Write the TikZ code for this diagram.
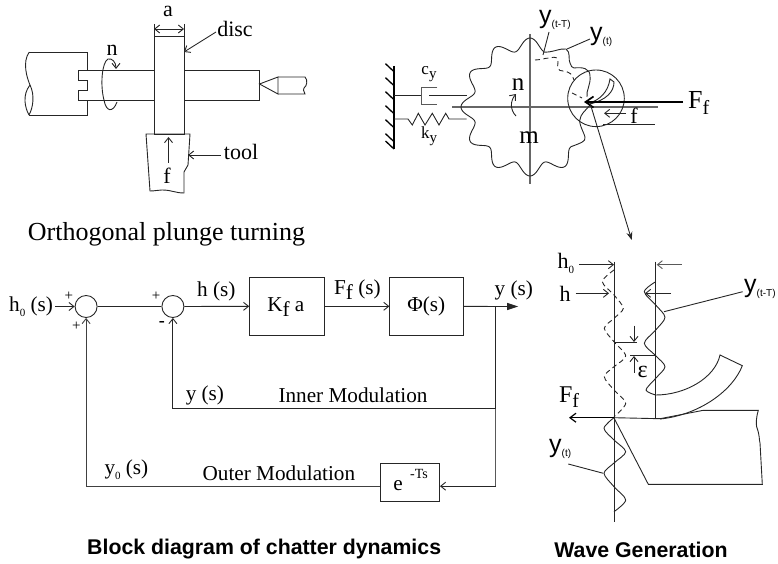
\documentclass[tikz,border=0pt]{standalone}
\usepackage{fontspec}
\setmainfont{Liberation Serif}
\newfontfamily\hv{Liberation Sans}
\usetikzlibrary{arrows.meta}
\newcommand{\fs}[1]{\fontsize{#1}{#1}\selectfont}
\newcommand{\sbs}[3][-0.22em]{\raisebox{#1}{\fs{#2}#3}}
\tikzset{
  x=1pt,y=-1pt,
  ln/.style={line width=0.9pt,black!85},
  ar/.style={ln,-{Straight Barb[length=5pt,width=8pt,line width=0.9pt]}},
  arr/.style={ln,{Straight Barb[length=5pt,width=8pt,line width=0.9pt]}-{Straight Barb[length=5pt,width=8pt,line width=0.9pt]}},
  axisline/.style={line width=1.3pt,black!60},
  dsh/.style={ln,dash pattern=on 5pt off 3.5pt},
  lab/.style={inner sep=0pt,font=\fs{21.2}},
  bigt/.style={inner sep=0pt,font=\fs{22}},
  smallt/.style={inner sep=0pt,font=\fs{17}},
  captxt/.style={inner sep=0pt,font=\hv\bfseries\fs{21.3}},
  blockbox/.style={draw,ln,inner sep=0pt},
  sumc/.style={draw,ln,circle,minimum size=22pt,inner sep=0pt},
}
\begin{document}
\begin{tikzpicture}
\useasboundingbox (0,0) rectangle (778,564);
% ---- Orthogonal plunge turning
\draw[ln] (154,36) rectangle (184,134);
\draw[ln] (29.3,52) -- (87,52) -- (87,70) -- (78,70) -- (78,80) -- (87,80) -- (87,90) -- (78,90) -- (78,100) -- (87,100) -- (87,115) -- (29,115);
\draw[ln] (29.3,52) .. controls (22,62) and (27,78) .. (30,85) .. controls (22,95) and (25,108) .. (29,115);
\draw[ln] (30,85) .. controls (35,95) and (33,108) .. (29,115);
\draw[ln] (87,70) -- (154,70) (87,100) -- (154,100);
\draw[ln] (184,70) -- (259.5,70) -- (259.5,100) -- (184,100);
\draw[ln] (259.5,84) -- (278,77) -- (278,94) -- cycle;
\draw[ln] (278,77) -- (305,77) .. controls (308,80) and (307,86) .. (304,88) .. controls (302,92) and (306,92) .. (305,94) -- (278,94);
\draw[ln] (146,134) -- (190,134) -- (188,165) -- (184,172) -- (184,193) .. controls (175,193) and (172,190) .. (162,190) .. controls (158,190) and (155,191) .. (150,191) -- cycle;
\draw[ln] (154,24) -- (154,36) (184,24) -- (184,36);
\coordinate (da) at (154,29); \coordinate (db) at (184,29);
\draw[arr] (da) -- (db);
\node[bigt] (na) at (168,11) {a};
\node[bigt] (ndisc) at (235,29) {disc};
\coordinate (discpt) at (184,52);
\draw[ar] (216,32) -- (discpt);
\node[bigt] (nn1) at (112,50) {n};
\draw[ar] (117,102) .. controls (113,113) and (106,112) .. (104,100) .. controls (100,85) and (102,62) .. (108,59) .. controls (112,58) and (116,62) .. (116,69);
\node[bigt] (nf1) at (167,176) {f};
\coordinate (f1a) at (168.5,163); \coordinate (f1b) at (168.5,137);
\draw[ar] (f1a) -- (f1b);
\node[bigt] (ntool) at (241,152) {tool};
\coordinate (toolpt) at (188,155);
\draw[ar] (ntool.west|-toolpt) ++(-3,0) -- (toolpt);
\node[inner sep=0pt,font=\fs{26}] (c1) at (166.5,234) {Orthogonal plunge turning};
% ---- Gear
\draw[line width=1.8pt,black] (394,66) -- (394,149);
\foreach \yy in {71.7,85.7,99.7,113.7,127.7,141.7} \draw[line width=1.3pt] (394,\yy) -- (385.5,\yy-8);
\draw[line width=1.3pt] (394,149) -- (385.5,141);
\draw[ln] (394,95) -- (421.7,95);
\draw[ln,black!65] (437.3,87.3) -- (421.7,87.3) -- (421.7,104) -- (437.3,104);
\draw[ln] (429,95) -- (466.7,95);
\draw[ln] (394,119) -- (408,119) -- (412.3,125) -- (418.3,113.3) -- (425,125) -- (432.3,113.3) -- (439,125) -- (445.7,113.3) -- (449,119) -- (466.7,119);
\node[smallt] (ncy) at (429,74) {c\sbs{15}{y}};
\node[smallt] (nky) at (429,136) {k\sbs{15}{y}};
\draw[axisline] (530,34) -- (530,184);
\draw[axisline] (452,107) -- (658,107);
\draw[ln] plot[smooth,samples=260,domain=76:318] ({530+(63+6*cos(12*\x))*cos(\x)},{107-(63+6*cos(12*\x))*sin(\x)})
  .. controls (580,143) and (586,142) .. (585,137) .. controls (583,130) and (577,122) .. (581,116) .. controls (583,112) and (587,109) .. (590,105);
\draw[ln] (543,52) .. controls (552,53) and (560,48) .. (566,49) .. controls (571,52) and (568,60) .. (570,63) .. controls (571,66) and (572,68) .. (574,68) .. controls (582,67) and (590,68) .. (590,76) .. controls (591,85) and (586,90) .. (587,97);
\draw[dsh] (535,60) .. controls (540,60) and (545,58) .. (550,58) .. controls (556,56) and (558,58) .. (558,62) .. controls (557,68) and (558,71) .. (563,71) .. controls (570,72) and (572,74) .. (574,80);
\draw[dsh] (572,93) -- (582,98);
\draw[ln] (596,98.3) circle (28.3);
\draw[ln] (589,103) .. controls (600,100) and (608,92) .. (610,79) -- (614,82) .. controls (614,92) and (606,100) .. (590,104);
\coordinate (Ftail) at (683,102); \coordinate (Ftip) at (584,102);
\draw[line width=2pt,-{Straight Barb[length=8pt,width=11pt,line width=1.7pt]}] (Ftail) -- (Ftip);
\node[anchor=west,inner sep=0pt,font=\fs{26}] (nFf) at (688,103) {F\sbs{20}{f}};
\draw[ar] (626,113.3) -- (604,113.3);
\node[bigt] (nf2) at (634,116) {f};
\draw[ln] (603,124.3) -- (655,124.3);
\node[inner sep=0pt,font=\fs{25}] (nn2) at (518,85) {n};
\draw[ar] (516,116) .. controls (510,110) and (510,101) .. (516,94);
\node[inner sep=0pt,font=\fs{25}] (nm) at (529,138) {m};
\node[anchor=west,inner sep=0pt,font=\hv\fs{25}] (yt1) at (590,37) {y\sbs[-0.15em]{10}{(t)}};
\node[anchor=west,inner sep=0pt,font=\hv\fs{25}] (ytt1) at (539,20) {y\sbs[-0.15em]{10}{(t-T)}};
\draw[ln] (590,39) -- (567,49);
\draw[ln] (549,32) -- (543,55);
\coordinate (leadA) at (590,103); \coordinate (leadB) at (631.7,240);
\draw[ln,-{Stealth[length=8pt,width=6pt]}] (leadA) -- (leadB);
% ---- Block diagram
\node[sumc] (s1) at (86.1,306.5) {};
\node[sumc] (s2) at (172.9,306.5) {};
\node[blockbox,minimum width=74.3pt,minimum height=58.2pt] (kb) at (286.8,306.3) {};
\node[blockbox,minimum width=73.7pt,minimum height=58.2pt] (pb) at (426.7,306.3) {};
\node[blockbox,minimum width=59pt,minimum height=38.5pt] (eb) at (410,482.5) {};
\node[lab] (kt) at (285.8,307) {K\sbs{21.2}{f} a};
\node[lab] (pt) at (426.3,306.5) {Φ(s)};
\node[lab,anchor=west] (h0s) at (9,306.5) {h\sbs{11}{0} (s)};
\coordinate (h0e) at (55,306.5);
\draw[ar] (h0e) -- (s1.west);
\draw[ln] (s1.east) -- (s2.west);
\draw[ar] (s2.east) -- (kb.west);
\draw[ar] (kb.east) -- (pb.west);
\coordinate (br) at (495.9,306.5);
\coordinate (outp) at (518.2,306.5);
\coordinate (br2) at (495.9,408.1);
\coordinate (br3) at (495.9,486.2);
\draw[ln] (pb.east) -- (br);
\draw[ln,-{Triangle[length=11pt,width=7pt]}] (br) -- (outp);
\draw[ln] (br) -- (br2);
\draw[ln,black!65] (br2) -- (br3);
\draw[ar] (br3) -- (eb.east|-br3);
\draw[ar] (br2) -| (s2.south);
\draw[ar,black!75] (eb.west|-br3) -| (s1.south);
\node[inner sep=0pt,font=\fs{15}] (p1) at (68.9,296.2) {+};
\node[inner sep=0pt,font=\fs{15}] (p2) at (76.4,326.5) {+};
\node[inner sep=0pt,font=\fs{15}] (p3) at (156,296.2) {+};
\node[inner sep=0pt,font=\bfseries\fs{18}] (p4) at (161.8,323.5) {-};
\node[lab] (lh) at (216.3,291) {h (s)};
\node[lab] (lF) at (357.4,289.5) {F\sbs{21.2}{f} (s)};
\node[lab] (ly) at (513.8,290.3) {y (s)};
\node[lab] (ly2) at (204.9,395) {y (s)};
\node[lab] (lin) at (353,395.7) {Inner Modulation};
\node[lab] (ly0) at (126.4,469.4) {y\sbs{11}{0} (s)};
\node[lab] (lout) at (278.9,473.5) {Outer Modulation};
\node[lab] (le) at (398,486) {e};
\node[inner sep=0pt,font=\fs{14}] (lts) at (419,474) {-Ts};
\node[captxt,anchor=west] (c2) at (87,549) {Block diagram of chatter dynamics};
% ---- Wave generation
\draw[ln] (614,261.7) -- (614,521.7);
\draw[ln] (655.7,261.7) -- (655.7,418);
\draw[ar] (579,264.7) -- (614,264.7);
\draw[ar] (575.7,293.3) -- (609,293.3);
\draw[ar,black!65] (681.7,264.7) -- (656.7,264.7);
\draw[ar] (671,293.3) -- (645,293.3);
\node[bigt,anchor=west] (wh0) at (557.5,263) {h\sbs{11}{0}};
\node[bigt] (wh) at (565,294) {h};
\draw[dsh] plot[smooth] coordinates {(614,270) (602.3,281.7) (614,295) (623.3,308.3) (614,318.3) (604.3,328.3) (614,341.7) (625.7,356) (614,366.7) (604.3,376.7) (614,390) (625.7,403.3) (614,416.7)};
\draw[ln] plot[smooth] coordinates {(655.7,281.7) (644.3,291.7) (655.7,305) (665,317.3) (655.7,330) (644.3,343.3) (655.7,355.7) (665,366.7) (655.7,378.3) (646,390) (655.7,395)};
\draw[ln] (655.7,395) .. controls (685,395) and (715,378) .. (720,355) -- (742.3,365.7) .. controls (733,390) and (700,415) .. (660,419);
\draw[ln] (660,418.7) -- (703.3,410.3) -- (758.3,410.3) .. controls (756,418) and (756,424) .. (756.7,427) .. controls (760,436) and (759,440) .. (760,443) -- (762.3,484.3) -- (648.3,484.3) -- (614,418);
\draw[ln] (614,417.7) -- (660,418.7);
\draw[ln] plot[smooth] coordinates {(614,417.7) (604,428.3) (614,440) (625.7,451.7) (614,463) (604,473.3) (614,486.7) (625.7,500) (614,511.7)};
\draw[line width=1.4pt,-{Straight Barb[length=6pt,width=9pt,line width=1.2pt]}] (614,417.7) -- (569,417.7);
\node[inner sep=0pt,font=\fs{24}] (wF) at (569,397) {F\sbs{20}{f}};
\draw[ln] (614,342.3) -- (637,342.3);
\draw[ln] (630,355.7) -- (655.7,355.7);
\draw[ar] (634,325.7) -- (634,342);
\draw[ar] (634,372.7) -- (634,356);
\node[inner sep=0pt,font=\fs{24}] (weps) at (642.7,372) {ε};
\node[anchor=west,inner sep=0pt,font=\hv\fs{25}] (wy1) at (744,289) {y\sbs[-0.15em]{10}{(t-T)}};
\draw[ln] (664,311.7) -- (742.7,291.7);
\node[anchor=west,inner sep=0pt,font=\hv\fs{25}] (wy2) at (549,449) {y\sbs[-0.15em]{10}{(t)}};
\draw[ln] (568.3,464) -- (603.3,473.3);
\node[captxt] (c3) at (641,550) {Wave Generation};
\end{tikzpicture}
\end{document}
